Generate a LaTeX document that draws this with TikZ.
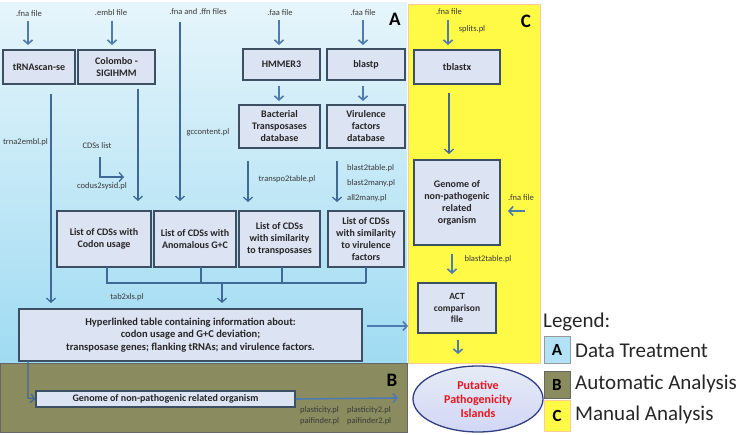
\documentclass[tikz,border=0pt]{standalone}
\usepackage{fontspec}
\setmainfont{Carlito}
\usetikzlibrary{arrows.meta,shapes.geometric,calc}
\definecolor{boxfill}{HTML}{DCE3F2}
\definecolor{boxdraw}{HTML}{3D4F63}
\definecolor{arrc}{HTML}{4F7BAF}
\definecolor{linec}{HTML}{3F6A98}
\definecolor{atop}{HTML}{E6F5FB}
\definecolor{abot}{HTML}{9FDBF2}
\definecolor{olive}{HTML}{8A8B5E}
\definecolor{yel}{HTML}{FFFA45}
\definecolor{redtxt}{HTML}{E8141C}
\definecolor{lbl}{HTML}{3A3A3A}
\tikzset{
  x=1pt,y=-1pt,
  box/.style={draw=boxdraw,fill=boxfill,line width=1.4pt,align=center,inner sep=1pt,
    font=\bfseries\fontsize{10}{12}\selectfont,text=black!85},
  lab/.style={inner sep=0pt,font=\fontsize{8.5}{10}\selectfont,text=lbl},
  arr/.style={draw=arrc,line width=1.6pt,-{Straight Barb[length=4pt,width=9pt]}},
  larr/.style={draw=linec,line width=1.3pt,-{Straight Barb[length=4pt,width=9pt]}},
  ln/.style={draw=linec,line width=1.3pt},
  big/.style={inner sep=0pt,font=\bfseries\fontsize{19}{20}\selectfont},
  legt/.style={inner sep=0pt,anchor=west,font=\fontsize{21}{22}\selectfont,text=black!85},
  legbox/.style={line width=0.8pt,minimum width=26,inner sep=0pt,font=\bfseries\fontsize{17}{18}\selectfont},
}
\begin{document}
\begin{tikzpicture}
\useasboundingbox (0,0) rectangle (739,435);
% regions
\shade[top color=atop,bottom color=abot] (0,3) rectangle (407,363);
\fill[yel] (408,4) rectangle (540,363);
\draw[orange!40,line width=0.6pt] (408,4) rectangle (540,363);
\fill[olive] (0,363) rectangle (407,432);
\draw[black!60,line width=0.6pt] (0,363) rectangle (407,432);
\node[big] (labA) at (395,19) {A};
\node[big] (labB) at (392,380) {B};
\node[big] (labC) at (526,21) {C};

% boxes in A
\node[box,minimum width=72,minimum height=34] (trna) at (39,67) {tRNAscan-se};
\node[box,minimum width=77,minimum height=34] (colombo) at (116.5,67) {Colombo -\\SIGIHMM};
\node[box,minimum width=77,minimum height=31] (hmmer) at (281.5,64.5) {HMMER3};
\node[box,minimum width=78,minimum height=31] (blastp) at (366,64.5) {blastp};
\node[box,minimum width=81,minimum height=43] (bact) at (279.5,126.5) {Bacterial\\Transposases\\database};
\node[box,minimum width=78,minimum height=43] (virdb) at (366,126.5) {Virulence\\factors\\database};
\node[box,minimum width=94,minimum height=56] (codon) at (104,239) {List of CDSs with\\Codon usage};
\node[box,minimum width=82,minimum height=56] (anom) at (195,239) {List of CDSs with\\Anomalous G+C};
\node[box,minimum width=81,minimum height=56] (tlist) at (279.5,239) {List of CDSs\\with similarity\\to transposases};
\node[box,minimum width=76,minimum height=56] (vlist) at (366,239) {List of CDSs\\with similarity\\to virulence\\factors};
\node[box,minimum width=343,minimum height=52,font=\bfseries\fontsize{10.5}{12.5}\selectfont] (table) at (190.5,335)
  {Hyperlinked table containing information about:\\codon usage and G+C deviation;\\transposase genes; flanking tRNAs; and virulence factors.};
% box in B
\node[box,minimum width=259,minimum height=16,inner sep=0pt,font=\bfseries\fontsize{10}{11}\selectfont] (genB) at (165.5,399) {Genome of non-pathogenic related organism};
% boxes in C
\node[box,minimum width=86,minimum height=34] (tblastx) at (457,67) {tblastx};
\node[box,minimum width=86,minimum height=85] (genC) at (457,202.5) {Genome of\\non-pathogenic\\related\\organism};
\node[box,minimum width=78,minimum height=50,font=\bfseries\fontsize{9.5}{11.5}\selectfont] (act) at (457,308) {ACT\\comparison\\file};
\node[ellipse,draw=boxdraw!80!blue,line width=1.3pt,top color=boxfill!70,bottom color=boxfill!90!blue!80,
  minimum width=130,minimum height=66,inner sep=0pt,align=center,text=redtxt,
  font=\bfseries\fontsize{12}{14}\selectfont] (ppi) at (478,399) {Putative\\Pathogenicity\\Islands};

% labels
\node[lab] (fna1) at (29,14) {.fna file};
\node[lab] (embl) at (111,13) {.embl file};
\node[lab] (fnaffn) at (198,12) {.fna and .ffn files};
\node[lab] (faa1) at (280,13) {.faa file};
\node[lab] (faa2) at (363,13) {.faa file};
\node[lab] (fna3) at (449,12) {.fna file};
\node[lab] (splits) at (472,29) {splits.pl};
\node[lab,anchor=east] (trna2embl) at (48,142) {trna2embl.pl};
\node[lab] (gcc) at (208,132) {gccontent.pl};
\node[lab] (cdsl) at (97,146) {CDSs list};
\node[lab] (codus) at (102,186) {codus2sysid.pl};
\node[lab] (transpo) at (287,179) {transpo2table.pl};
\node[lab,anchor=west] (b2t) at (347,168) {blast2table.pl};
\node[lab,anchor=west] (b2m) at (347,183) {blast2many.pl};
\node[lab,anchor=west] (a2m) at (347,198) {all2many.pl};
\node[lab] (tab2xls) at (127,297) {tab2xls.pl};
\node[lab] (fna4) at (521,198) {.fna file};
\node[lab] (b2tC) at (488,259) {blast2table.pl};
\node[lab,anchor=west] (plast) at (300,410) {plasticity.pl};
\node[lab,anchor=west] (plast2) at (347,410) {plasticity2.pl};
\node[lab,anchor=west] (pai) at (300,421) {paifinder.pl};
\node[lab,anchor=west] (pai2) at (347,421) {paifinder2.pl};

% coordinates
\coordinate (fnaA) at (28,45);
\coordinate (emblA) at (112,45);
\coordinate (faa1A) at (279,45);
\coordinate (faa2A) at (363,45);
\coordinate (fna3A) at (448,45);
\coordinate (bt) at (107,283);
\coordinate (bm) at (222,283);
\coordinate (toC) at (408,326);
\coordinate (bcorner) at (28,398);
\coordinate (bend) at (398,398);
\coordinate (fna4s) at (525,211);
\coordinate (cdsa) at (100,157);
\coordinate (cdsb) at (100,177);
\coordinate (cdsc) at (124,177);

% input arrows
\draw[arr] (28,21) -- (fnaA);
\draw[arr] (112,21) -- (emblA);
\draw[arr] (279,20) -- (faa1A);
\draw[arr] (363,20) -- (faa2A);
\draw[arr] (448,20) -- (fna3A);
% long lines
\draw[larr] (trna.south -| 51,0) ++(0,9) -- (51,303);
\draw[larr] (colombo.south -| 138,0) ++(0,4) -- (138,201);
\draw[larr] (180,22) -- (180,201);
\draw[larr] (cdsa) -- (cdsb) -- (cdsc);
% db arrows
\draw[arr] (279,86) -- (279,101);
\draw[arr] (363,86) -- (363,101);
\draw[larr] (248,161) -- (248,202);
\draw[larr] (337,161) -- (337,202);
% bracket
\draw[ln] (107,267) -- (bt) -- (366,283);
\draw[ln] (201,267) -- (201,283);
\draw[ln] (282,267) -- (282,283);
\draw[ln] (366,267) -- (366,283);
\draw[larr] (bm) -- (222,303);
\draw[arr] (table.east) ++(4,-9) -- (toC);
% B
\draw[larr] (28,361) -- (bcorner) -- (genB.west);
\draw[arr] (genB.east) -- (bend);
% C
\draw[larr] (449,93) -- (449,154);
\draw[arr] (fna4s) -- (508,211);
\draw[arr] (452,254) -- (452,274);
\draw[arr] (458,340) -- (458,354);

% legend
\node[inner sep=0pt,anchor=west,font=\fontsize{21}{22}\selectfont,text=black!85] (leg) at (543,322) {Legend:};
\node[legbox,draw=black!40,fill=abot!80,minimum height=27] (lA) at (557,350) {A};
\node[legbox,draw=black!60,fill=olive,minimum height=27] (lB) at (557,385) {B};
\node[legbox,draw=orange!40,fill=yel,minimum height=31] (lC) at (557,416) {C};
\node[legt] (tA) at (575,351) {Data Treatment};
\node[legt] (tB) at (575,384) {Automatic Analysis};
\node[legt] (tC) at (575,415) {Manual Analysis};
\end{tikzpicture}
\end{document}
